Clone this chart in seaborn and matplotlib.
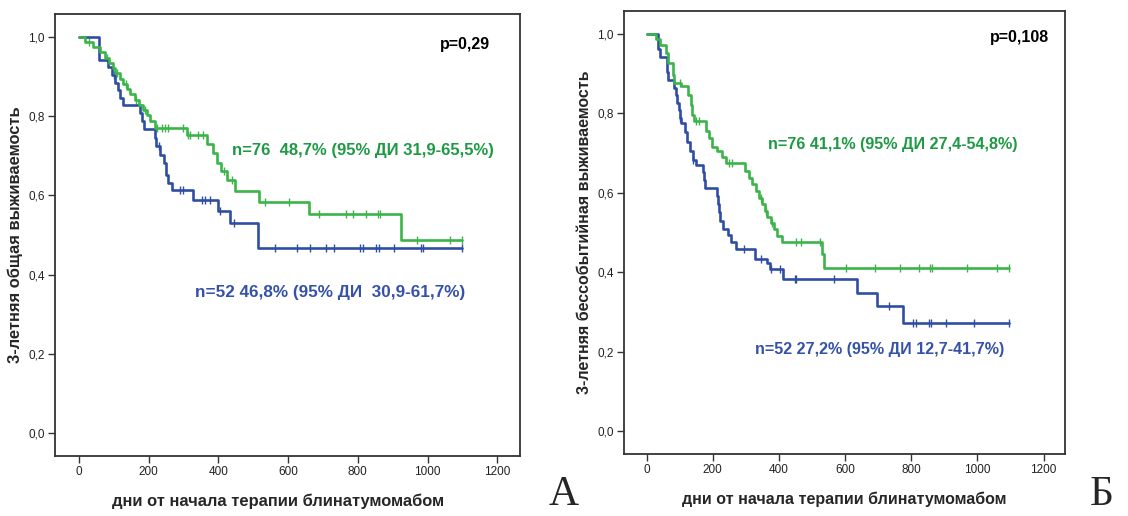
import numpy as np
import pandas as pd
import matplotlib
matplotlib.use("Agg")
import matplotlib.pyplot as plt
import seaborn as sns

# ---------------- Panel A: overall survival ----------------
# Kaplan-Meier step points (days, survival); last point is end of follow-up
os_blue_t = [0, 58, 83, 95, 103, 112, 118, 126, 175, 180, 188, 218, 222, 232, 245, 250, 256, 268, 327, 400, 434, 515, 1100]
os_blue_s = [1.0, 0.942, 0.923, 0.904, 0.885, 0.865, 0.846, 0.828, 0.808, 0.788, 0.768, 0.745, 0.724, 0.703, 0.683, 0.651, 0.632, 0.614, 0.588, 0.561, 0.531, 0.468, 0.468]
os_blue_cens = [100, 230, 290, 300, 352, 362, 377, 405, 445, 563, 627, 662, 710, 733, 805, 815, 853, 860, 903, 982, 987, 1100]

os_green_t = [0, 18, 40, 62, 75, 88, 97, 105, 118, 128, 138, 148, 160, 172, 185, 196, 205, 218, 309, 367, 385, 395, 408, 425, 448, 518, 660, 923, 1100]
os_green_s = [1.0, 0.987, 0.974, 0.961, 0.947, 0.934, 0.921, 0.908, 0.895, 0.882, 0.868, 0.855, 0.842, 0.829, 0.815, 0.802, 0.789, 0.769, 0.753, 0.729, 0.706, 0.683, 0.661, 0.639, 0.612, 0.584, 0.552, 0.487, 0.487]
os_green_cens = [30, 80, 110, 135, 165, 190, 225, 238, 247, 257, 300, 313, 319, 342, 356, 415, 440, 534, 604, 690, 766, 785, 824, 858, 865, 970, 1064, 1100]

# ---------------- Panel Б: event-free survival ----------------
efs_blue_t = [0, 35, 40, 62, 65, 82, 88, 92, 97, 100, 105, 115, 122, 130, 140, 150, 170, 174, 178, 213, 216, 219, 222, 232, 245, 254, 269, 328, 363, 372, 413, 637, 697, 776, 1095]
efs_blue_s = [1.0, 0.962, 0.942, 0.904, 0.885, 0.865, 0.846, 0.827, 0.808, 0.788, 0.775, 0.752, 0.729, 0.706, 0.683, 0.670, 0.652, 0.632, 0.612, 0.591, 0.571, 0.551, 0.530, 0.510, 0.493, 0.476, 0.459, 0.434, 0.422, 0.409, 0.384, 0.348, 0.314, 0.272, 0.272]
efs_blue_cens = [102, 142, 294, 345, 377, 403, 448, 453, 567, 733, 806, 816, 853, 859, 905, 990, 1095]

efs_green_t = [0, 30, 40, 60, 65, 80, 84, 104, 124, 134, 139, 145, 179, 189, 199, 214, 229, 239, 299, 310, 320, 330, 340, 350, 357, 365, 375, 385, 395, 410, 530, 536, 1095]
efs_green_s = [1.0, 0.987, 0.972, 0.951, 0.926, 0.897, 0.876, 0.868, 0.846, 0.821, 0.795, 0.782, 0.756, 0.737, 0.716, 0.705, 0.690, 0.674, 0.655, 0.638, 0.621, 0.604, 0.588, 0.571, 0.555, 0.540, 0.524, 0.508, 0.492, 0.476, 0.445, 0.411, 0.411]
efs_green_cens = [100, 150, 160, 249, 259, 345, 362, 378, 453, 468, 524, 604, 690, 766, 823, 856, 862, 970, 1060, 1095]

x_ticks = [0, 200, 400, 600, 800, 1000, 1200]
y_ticks = [0.0, 0.2, 0.4, 0.6, 0.8, 1.0]
y_tick_labels = ["0,0", "0,2", "0,4", "0,6", "0,8", "1,0"]

x_label = "дни от начала терапии блинатумомабом"
y_label_a = "3-летняя общая выживаемость"
y_label_b = "3-летняя бессобытийная выживаемость"
p_a = "p=0,29"
p_b = "p=0,108"
ann_a_green = "n=76  48,7% (95% ДИ 31,9-65,5%)"
ann_a_blue = "n=52 46,8% (95% ДИ  30,9-61,7%)"
ann_b_green = "n=76 41,1% (95% ДИ 27,4-54,8%)"
ann_b_blue = "n=52 27,2% (95% ДИ 12,7-41,7%)"

BLUE = "#2f4ea3"
GREEN = "#3bb44a"
GREEN_TXT = "#1e9a45"
BLUE_TXT = "#3552a8"

sns.set_style("ticks")
plt.rcParams["font.family"] = ["Liberation Sans", "DejaVu Sans"]

fig = plt.figure(figsize=(11.28, 5.16), dpi=100)
ax_a = fig.add_axes([0.0488, 0.1163, 0.4122, 0.8566])
ax_b = fig.add_axes([0.5532, 0.1202, 0.3910, 0.8585])


def km_frame(t, s):
    return pd.DataFrame({"t": t, "s": s})


def censor_frame(t, s, cens):
    t = np.asarray(t, float)
    s = np.asarray(s, float)
    idx = np.searchsorted(t, np.asarray(cens, float), side="right") - 1
    return pd.DataFrame({"t": cens, "s": s[idx]})


def draw_curve(ax, t, s, cens, color):
    sns.lineplot(data=km_frame(t, s), x="t", y="s", ax=ax, color=color,
                 drawstyle="steps-post", estimator=None, sort=False,
                 linewidth=1.9, legend=False)
    sns.scatterplot(data=censor_frame(t, s, cens), x="t", y="s", ax=ax,
                    marker="|", s=30, linewidth=1.0, color=color, legend=False)


def style_axes(ax, ylabel, ylabelpad, label_x, label_size):
    ax.set_xlim(-68, 1265)
    ax.set_ylim(-0.058, 1.058)
    ax.set_xticks(x_ticks)
    ax.set_xticklabels([str(v) for v in x_ticks])
    ax.set_yticks(y_ticks)
    ax.set_yticklabels(y_tick_labels)
    ax.tick_params(axis="both", direction="out", length=5, width=1.0, pad=2.5,
                   labelsize=8.5, color="#333333", labelcolor="#222222")
    for sp in ax.spines.values():
        sp.set_visible(True)
        sp.set_linewidth(1.3)
        sp.set_color("#333333")
    ax.set_xlabel(x_label, fontsize=label_size, fontweight="bold", labelpad=11)
    ax.xaxis.label.set_x(label_x)
    ax.set_ylabel(ylabel, fontsize=label_size, fontweight="bold", labelpad=ylabelpad)


draw_curve(ax_a, os_blue_t, os_blue_s, os_blue_cens, BLUE)
draw_curve(ax_a, os_green_t, os_green_s, os_green_cens, GREEN)
style_axes(ax_a, y_label_a, 4, 0.48, 11.9)
ax_a.text(0.935, 0.93, p_a, transform=ax_a.transAxes, ha="right", va="center",
          fontsize=11.5, fontweight="bold", color="black")
ax_a.text(0.381, 0.692, ann_a_green, transform=ax_a.transAxes, ha="left",
          va="center", fontsize=12, fontweight="bold", color=GREEN_TXT)
ax_a.text(0.301, 0.371, ann_a_blue, transform=ax_a.transAxes, ha="left",
          va="center", fontsize=12.3, fontweight="bold", color=BLUE_TXT)

draw_curve(ax_b, efs_blue_t, efs_blue_s, efs_blue_cens, BLUE)
draw_curve(ax_b, efs_green_t, efs_green_s, efs_green_cens, GREEN)
style_axes(ax_b, y_label_b, 4, 0.5, 11.5)
ax_b.text(0.964, 0.94, p_b, transform=ax_b.transAxes, ha="right", va="center",
          fontsize=11.5, fontweight="bold", color="black")
ax_b.text(0.327, 0.698, ann_b_green, transform=ax_b.transAxes, ha="left",
          va="center", fontsize=11.6, fontweight="bold", color=GREEN_TXT)
ax_b.text(0.297, 0.235, ann_b_blue, transform=ax_b.transAxes, ha="left",
          va="center", fontsize=11.6, fontweight="bold", color=BLUE_TXT)

# panel letters
fig.text(0.486, 0.022, "А", fontsize=30, family="Liberation Serif", ha="left", va="baseline")
fig.text(0.966, 0.022, "Б", fontsize=30, family="Liberation Serif", ha="left", va="baseline")

fig.savefig("out.png", dpi=100)
